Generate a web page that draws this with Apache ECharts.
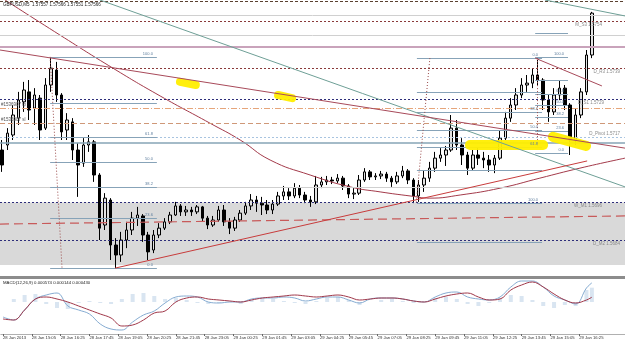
<!DOCTYPE html>
<html><head><meta charset="utf-8">
<script src="https://cdn.jsdelivr.net/npm/echarts@6/dist/echarts.min.js"></script>
<style>html,body{margin:0;padding:0;background:#fff}#c{width:625px;height:344px}</style>
</head><body><div id="c"></div>
<script>
// ---- header ----
const headerText = 'GBPUSD,M5  1.57557 1.57566 1.57551 1.57566';
const macdText = 'MACD(12,26,9) 0.000574 0.000144 0.000430';

// ---- bars: 15-minute sampling, time in minutes from 28 Jan 2013 00:00 ----
const barStart = 825, barStep = 15;
const opens = [1.57128,1.57144,1.57176,1.57230,1.57282,1.57314,1.57262,1.57294,1.57198,1.57336,1.57384,1.57304,1.57192,1.57218,1.57128,1.57086,1.57144,1.57154,1.57048,1.56888,1.56968,1.56824,1.56792,1.56840,1.56872,1.56910,1.56917,1.56856,1.56808,1.56856,1.56878,1.56898,1.56920,1.56949,1.56930,1.56936,1.56930,1.56946,1.56910,1.56888,1.56904,1.56936,1.56898,1.56878,1.56904,1.56926,1.56949,1.56968,1.56958,1.56952,1.56936,1.56955,1.56981,1.56994,1.56981,1.57006,1.56984,1.56968,1.56962,1.57016,1.57026,1.57032,1.57029,1.57038,1.57013,1.56987,1.56990,1.57032,1.57058,1.57042,1.57045,1.57051,1.57038,1.57026,1.57045,1.57061,1.57032,1.56981,1.57016,1.57038,1.57070,1.57102,1.57112,1.57128,1.57198,1.57144,1.57112,1.57070,1.57112,1.57102,1.57096,1.57080,1.57102,1.57166,1.57230,1.57272,1.57304,1.57336,1.57342,1.57368,1.57352,1.57288,1.57250,1.57304,1.57326,1.57272,1.57160,1.57240,1.57314,1.57432];
const closes = [1.57080,1.57182,1.57240,1.57288,1.57320,1.57256,1.57304,1.57192,1.57336,1.57390,1.57304,1.57186,1.57224,1.57128,1.57080,1.57144,1.57154,1.57048,1.56878,1.56974,1.56824,1.56792,1.56840,1.56872,1.56910,1.56920,1.56856,1.56802,1.56856,1.56878,1.56898,1.56920,1.56949,1.56930,1.56936,1.56930,1.56946,1.56910,1.56888,1.56904,1.56936,1.56898,1.56878,1.56904,1.56926,1.56949,1.56968,1.56958,1.56952,1.56936,1.56955,1.56981,1.56994,1.56981,1.57006,1.56984,1.56968,1.56962,1.57016,1.57026,1.57032,1.57029,1.57038,1.57013,1.56987,1.56990,1.57032,1.57058,1.57042,1.57045,1.57051,1.57038,1.57026,1.57045,1.57061,1.57032,1.56981,1.57016,1.57038,1.57070,1.57102,1.57112,1.57128,1.57198,1.57144,1.57112,1.57070,1.57112,1.57102,1.57096,1.57080,1.57102,1.57166,1.57230,1.57272,1.57304,1.57336,1.57342,1.57368,1.57352,1.57288,1.57250,1.57304,1.57326,1.57272,1.57160,1.57240,1.57314,1.57432,1.57566];
const lows = [1.57058,1.57128,1.57160,1.57208,1.57250,1.57224,1.57208,1.57160,1.57192,1.57314,1.57282,1.57160,1.57160,1.57096,1.56978,1.57074,1.57122,1.57026,1.56840,1.56872,1.56776,1.56750,1.56770,1.56814,1.56856,1.56885,1.56834,1.56776,1.56798,1.56846,1.56872,1.56891,1.56917,1.56917,1.56917,1.56917,1.56923,1.56898,1.56875,1.56882,1.56898,1.56885,1.56859,1.56869,1.56898,1.56920,1.56936,1.56930,1.56920,1.56923,1.56923,1.56949,1.56968,1.56968,1.56974,1.56974,1.56958,1.56946,1.56955,1.57006,1.57016,1.57019,1.57022,1.57000,1.56974,1.56971,1.56984,1.57026,1.57032,1.57032,1.57035,1.57026,1.57010,1.57019,1.57038,1.57019,1.56958,1.56962,1.56994,1.57026,1.57058,1.57090,1.57077,1.57122,1.57128,1.57080,1.57048,1.57064,1.57080,1.57070,1.57058,1.57054,1.57096,1.57160,1.57218,1.57256,1.57294,1.57314,1.57326,1.57336,1.57256,1.57218,1.57240,1.57288,1.57256,1.57112,1.57144,1.57230,1.57304,1.57422];
const highs = [1.57160,1.57198,1.57272,1.57314,1.57346,1.57352,1.57326,1.57304,1.57358,1.57422,1.57410,1.57310,1.57246,1.57230,1.57150,1.57166,1.57176,1.57160,1.57054,1.56990,1.56974,1.56846,1.56866,1.56898,1.56930,1.56946,1.56923,1.56866,1.56872,1.56894,1.56910,1.56930,1.56962,1.56955,1.56949,1.56946,1.56952,1.56949,1.56917,1.56917,1.56949,1.56952,1.56910,1.56914,1.56936,1.56962,1.56987,1.56981,1.56978,1.56968,1.56968,1.56994,1.57013,1.57006,1.57022,1.57016,1.56994,1.56981,1.57045,1.57042,1.57045,1.57042,1.57051,1.57045,1.57019,1.57006,1.57048,1.57070,1.57064,1.57054,1.57061,1.57058,1.57045,1.57058,1.57077,1.57067,1.57038,1.57032,1.57064,1.57090,1.57122,1.57134,1.57141,1.57240,1.57224,1.57166,1.57122,1.57128,1.57134,1.57122,1.57112,1.57112,1.57192,1.57250,1.57294,1.57326,1.57358,1.57368,1.57390,1.57416,1.57358,1.57304,1.57326,1.57352,1.57336,1.57278,1.57262,1.57326,1.57448,1.57570];

// ---- time axis ticks ----
const tickTimes = [825,905,985,1065,1145,1225,1305,1385,1465,1545,1625,1705,1785,1865,1945,2025,2105,2185,2265,2345,2425];
const tickLabels = ['28 Jan 2013','28 Jan 15:05','28 Jan 16:25','28 Jan 17:45','28 Jan 19:05','28 Jan 20:25','28 Jan 21:45','28 Jan 23:05','29 Jan 00:25','29 Jan 01:45','29 Jan 03:05','29 Jan 04:25','29 Jan 05:45','29 Jan 07:05','29 Jan 08:25','29 Jan 09:45','29 Jan 11:05','29 Jan 12:25','29 Jan 13:45','29 Jan 15:05','29 Jan 16:25'];

// ---- horizontal levels ----
const pivotNames = ['M_S3 1.5754','D_R3 1.5739','D_S1 1.5729','D_Pivot 1.5717','W_M1 1.5696','D_M2 1.5684'];
const pivotPrices = [1.5754, 1.5739, 1.5729, 1.5717, 1.5696, 1.5684];
const plainLevels = [1.57603, 1.57560, 1.57496, 1.57458, 1.57150, 1.57010];
const orderLabels = ['#1536907 tp', '#1536907 sl'];
const orderPrices = [1.57262, 1.57214];
const bandPrices = [1.5696, 1.5676];
const dashTrendTimes = [819, 2552];
const dashTrendPrices = [1.56891, 1.56917];

// ---- fibonacci sets ----
const fibATimes = [958, 1254];
const fibALevels = [1.57426, 1.57278, 1.57170, 1.57090, 1.57010, 1.56910, 1.56750];
const fibALabels = ['100.0', '', '61.8', '50.0', '38.2', '23.6', '0.0'];
const fibCTimes = [1975, 2322];
const fibCLevels = [1.57422, 1.57314, 1.57250, 1.57192, 1.57138, 1.57064, 1.56958, 1.56834];
const fibCLabels = ['0.0', '', '38.2', '50.0', '61.8', '', '100.0', ''];
const fibBTimes = [2303, 2394];
const fibBLevels = [1.57118, 1.57189, 1.57234, 1.57272, 1.57307, 1.57352, 1.57426, 1.57502];
const fibBLabels = ['0.0', '23.6', '38.2', '50.0', '61.8', '', '100.0', ''];
const fibDotted = [[[958,1.57426],[991,1.56750]], [[2011,1.57422],[1973,1.56958]], [[2308,1.57422],[2308,1.57134]]];

// ---- trend lines ----
const tealLines = [[[1096,1.57608],[2552,1.57010]], [[2330,1.57608],[2552,1.57557]]];
const redLines = [[[819,1.57448],[2552,1.57134]], [[2303,1.57422],[2488,1.57333]]];
const supportLine = [[1138,1.56750],[2447,1.57093]];
const highlights = [[[1318,1.57346],[1362,1.57336]], [[1590,1.57304],[1629,1.57294]], [[2122,1.57144],[2325,1.57144]], [[2352,1.57170],[2444,1.57141]]];

// ---- long moving average ----
const maTimes = [833,985,1132,1263,1401,1485,1568,1679,1790,1873,1956,2011,2095,2206,2316,2427,2552];
const maPrices = [1.57608,1.57496,1.57390,1.57301,1.57214,1.57160,1.57096,1.57048,1.57010,1.56994,1.56981,1.56974,1.56984,1.57006,1.57038,1.57070,1.57102];

// ---- MACD (30-minute sampling + last bar) ----
const macdStart = 825, macdStep = 30, macdLast = 2460;
const macdMain = [-0.00045,-0.00054,-0.00024,0.00009,0.00021,0.00027,-0.00012,-0.00024,-0.00036,-0.00066,-0.00081,-0.00084,-0.00060,-0.00039,-0.00027,-0.00003,0.00015,0.00018,0.00015,0.00000,-0.00003,0.00000,0.00000,0.00009,0.00012,0.00012,0.00015,0.00012,0.00003,0.00009,0.00015,0.00015,0.00006,-0.00003,0.00009,0.00012,0.00012,0.00009,0.00003,0.00000,0.00015,0.00027,0.00030,0.00015,0.00009,0.00006,0.00015,0.00045,0.00063,0.00063,0.00045,0.00018,0.00006,-0.00006,0.00042,0.000574];
const macdSignal = [-0.00051,-0.00054,-0.00024,0.00009,0.00015,0.00009,0.00000,-0.00012,-0.00024,-0.00036,-0.00048,-0.00072,-0.00069,-0.00054,-0.00033,-0.00027,0.00000,0.00012,0.00015,0.00009,0.00006,0.00003,0.00000,0.00006,0.00012,0.00015,0.00018,0.00021,0.00018,0.00015,0.00018,0.00021,0.00015,0.00006,0.00009,0.00012,0.00012,0.00009,0.00003,0.00000,0.00009,0.00018,0.00024,0.00027,0.00015,0.00006,0.00009,0.00036,0.00051,0.00060,0.00045,0.00024,0.00006,-0.00003,0.00006,0.000144];
const macdHist = [0,0.00009,0.00021,0.00024,-0.00006,-0.00018,-0.00021,-0.00003,0.00003,-0.00003,-0.00006,0.00009,0.00024,0.00027,0.00018,0.00009,0.00012,0.00006,-0.00003,-0.00006,-0.00003,0,-0.00006,0.00006,0.00009,0.00009,0.00003,-0.00003,-0.00006,0.00003,0.00012,0.00015,0.00006,-0.00009,0,0.00006,0.00009,0.00003,-0.00003,0,0.00012,0.00015,0.00009,-0.00006,-0.00012,-0.00003,0.00012,0.00021,0.00018,0.00006,-0.00012,-0.00018,-0.00009,-0.00012,0.00036,0.00043];

// ================= build =================
const FF = 'Liberation Sans, Arial, sans-serif';
const xMin = 819, xMax = 2552;
const candleData = opens.map((o, i) => [barStart + i * barStep, o, closes[i], lows[i], highs[i]]);
const macdTimes = macdMain.map((_, k) => k < macdMain.length - 1 ? macdStart + k * macdStep : macdLast);

const noLabel = { show: false };
function lbl(text, pos, extra) {
  return Object.assign({ show: true, formatter: text, position: pos, fontSize: 4.5, color: '#8a8a8a', fontFamily: FF, distance: 1 }, extra || {});
}
function seg(a, b, style, label) {
  return [{ coord: a, lineStyle: style, label: label || noLabel }, { coord: b }];
}
function hl(p, style, label) { return seg([xMin, p], [xMax, p], style, label); }

const dotRed = { color: '#8a3a3a', type: [2, 2], width: 1 };
const dotNavy = { color: '#2e2e7a', type: [2, 2], width: 1 };
const hLines = [
  hl(plainLevels[0], { color: '#5a4030', type: [3, 2], width: 1 }),
  hl(plainLevels[1], { color: '#d0d0d0', type: 'solid', width: 1 }),
  hl(plainLevels[2], { color: '#d0d0d0', type: 'solid', width: 1 }),
  hl(plainLevels[3], { color: '#c9a3bb', type: 'solid', width: 2 }),
  hl(plainLevels[4], { color: '#86a4b6', type: 'solid', width: 1.5 }),
  hl(plainLevels[5], { color: '#cfcfcf', type: 'solid', width: 1 }),
  hl(pivotPrices[0], dotRed, lbl(pivotNames[0], 'insideEndBottom', { padding: [0, 22, 0, 0] })),
  hl(pivotPrices[1], dotRed, lbl(pivotNames[1], 'insideEndBottom', { padding: [0, 4, 0, 0] })),
  hl(pivotPrices[2], dotNavy, lbl(pivotNames[2], 'insideEndBottom', { padding: [0, 20, 0, 0] })),
  hl(pivotPrices[3], { color: '#a8c4e0', type: [2, 2], width: 1 }, lbl(pivotNames[3], 'insideEndTop', { padding: [0, 4, 0, 0] })),
  hl(pivotPrices[4], dotNavy, lbl(pivotNames[4], 'insideEndBottom', { padding: [0, 22, 0, 0] })),
  hl(pivotPrices[5], dotNavy, lbl(pivotNames[5], 'insideEndBottom', { padding: [0, 4, 0, 0] })),
  hl(orderPrices[0], { color: '#e6a57a', type: [6, 2, 1, 2], width: 1 }, lbl(orderLabels[0], 'insideStartTop', { color: '#555' })),
  hl(orderPrices[1], { color: '#cf9878', type: [5, 3], width: 1 }, lbl(orderLabels[1], 'insideStartTop', { color: '#555' }))
];
const fibStyle = { color: '#87a3b8', type: 'solid', width: 1 };
const fibLabel = t => t ? lbl(t, 'insideEndTop', { fontSize: 4, color: '#5e7e9e', padding: [0, 3, 0, 0] }) : noLabel;
const fibSegs = [];
fibALevels.forEach((p, i) => fibSegs.push(seg([fibATimes[0], p], [fibATimes[1], p], fibStyle, fibLabel(fibALabels[i]))));
fibCLevels.forEach((p, i) => fibSegs.push(seg([fibCTimes[0], p], [fibCTimes[1], p], fibStyle, fibLabel(fibCLabels[i]))));
fibBLevels.forEach((p, i) => fibSegs.push(seg([fibBTimes[0], p], [fibBTimes[1], p], fibStyle, fibLabel(fibBLabels[i]))));
fibDotted.forEach(d => fibSegs.push(seg(d[0], d[1], { color: '#9a4a4a', type: [1, 2], width: 1 })));
fibSegs.push(seg([dashTrendTimes[0], dashTrendPrices[0]], [dashTrendTimes[1], dashTrendPrices[1]], { color: '#c85a5a', type: [9, 5], width: 1.2 }));

const diagSegs = [];
tealLines.forEach(d => diagSegs.push(seg(d[0], d[1], { color: '#6e9f96', type: 'solid', width: 1 })));
redLines.forEach(d => diagSegs.push(seg(d[0], d[1], { color: '#a84a5a', type: 'solid', width: 1 })));
diagSegs.push(seg(supportLine[0], supportLine[1], { color: '#c83c3c', type: 'solid', width: 1 }));

const hlSegs = highlights.map((d, i) => seg(d[0], d[1], { color: '#ffee00', type: 'solid', width: i >= 2 ? 10 : 8, cap: 'round', opacity: 0.95 }));

const chart = echarts.init(document.getElementById('c'), null, { renderer: 'canvas' });
chart.setOption({
  animation: false,
  backgroundColor: '#ffffff',
  title: [
    { text: headerText, left: 3, top: 2, padding: 0, textStyle: { fontSize: 4.5, color: '#222', fontWeight: 'normal', fontFamily: FF } },
    { text: macdText, left: 3, top: 281, padding: 0, textStyle: { fontSize: 4.3, color: '#222', fontWeight: 'normal', fontFamily: FF } }
  ],
  grid: [
    { left: 0, right: 0, top: 0, height: 277 },
    { left: 0, right: 0, top: 279, height: 55 }
  ],
  xAxis: [
    { type: 'value', gridIndex: 0, min: xMin, max: xMax, axisLabel: { show: false }, axisTick: { show: false }, splitLine: { show: false },
      axisLine: { show: true, onZero: false, lineStyle: { color: '#8c8c8c', width: 3 } } },
    { type: 'value', gridIndex: 1, min: xMin, max: xMax, splitLine: { show: false },
      axisLine: { show: true, onZero: false, lineStyle: { color: '#b0b0b0', width: 1 } },
      axisTick: { show: true, customValues: tickTimes, length: 2, lineStyle: { color: '#666' } },
      axisLabel: { show: true, customValues: tickTimes, align: 'left', margin: 2, fontSize: 4.2, color: '#333', fontFamily: FF,
        formatter: v => { const k = tickTimes.indexOf(v); return k >= 0 ? tickLabels[k] : ''; } } }
  ],
  yAxis: [
    { type: 'value', gridIndex: 0, min: 1.567216, max: 1.57608, show: false, splitLine: { show: false } },
    { type: 'value', gridIndex: 1, min: -0.00096, max: 0.00069, show: false, splitLine: { show: false } }
  ],
  series: [
    { type: 'line', xAxisIndex: 0, yAxisIndex: 0, data: [], z: 1, silent: true,
      markArea: { silent: true, itemStyle: { color: '#d9d9d9' }, data: [[{ coord: [xMin, bandPrices[0]] }, { coord: [xMax, bandPrices[1]] }]] },
      markLine: { silent: true, symbol: ['none', 'none'], animation: false, label: { show: false }, data: hLines.concat(fibSegs) } },
    { type: 'line', xAxisIndex: 0, yAxisIndex: 0, data: [], z: 2, silent: true,
      markLine: { silent: true, symbol: ['none', 'none'], animation: false, label: { show: false }, data: hlSegs } },
    { type: 'candlestick', xAxisIndex: 0, yAxisIndex: 0, z: 3, barWidth: 3, data: candleData,
      itemStyle: { color: '#e2e2e2', color0: '#000000', borderColor: '#000000', borderColor0: '#000000', borderWidth: 1 } },
    { type: 'line', xAxisIndex: 0, yAxisIndex: 0, data: [], z: 4, silent: true,
      markLine: { silent: true, symbol: ['none', 'none'], animation: false, label: { show: false }, data: diagSegs } },
    { type: 'line', xAxisIndex: 0, yAxisIndex: 0, z: 4, smooth: true, showSymbol: false, silent: true,
      lineStyle: { color: '#a33a4a', width: 1 }, data: maTimes.map((t, i) => [t, maPrices[i]]) },
    { type: 'bar', xAxisIndex: 1, yAxisIndex: 1, barWidth: 4, silent: true,
      itemStyle: { color: 'rgba(120,160,205,0.28)' }, data: macdTimes.map((t, i) => [t, macdHist[i]]) },
    { type: 'line', xAxisIndex: 1, yAxisIndex: 1, smooth: 0.4, showSymbol: false, silent: true,
      lineStyle: { color: '#86acd2', width: 1 }, data: macdTimes.map((t, i) => [t, macdMain[i]]) },
    { type: 'line', xAxisIndex: 1, yAxisIndex: 1, smooth: 0.4, showSymbol: false, silent: true,
      lineStyle: { color: '#a0384a', width: 1 }, data: macdTimes.map((t, i) => [t, macdSignal[i]]) }
  ]
});
</script>
</body></html>
